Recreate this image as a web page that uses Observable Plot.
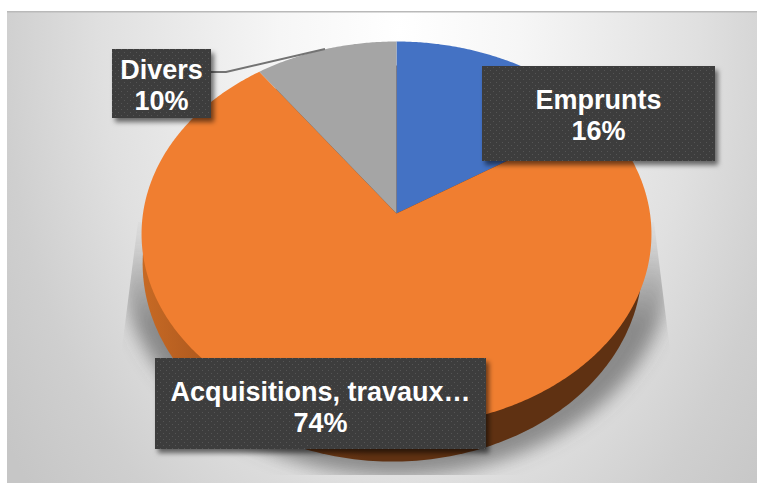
<!DOCTYPE html>
<html><head><meta charset="utf-8">
<script src="https://cdn.jsdelivr.net/npm/d3@7"></script>
<script src="https://cdn.jsdelivr.net/npm/@observablehq/plot@0.6"></script>
<style>html,body{margin:0;padding:0;background:#fff}svg{display:block}</style>
</head><body><div id="chart"></div>
<script>
const categories = ["Emprunts", "Acquisitions, travaux…", "Divers"];
const shares = [16, 74, 10];
const colors = ["#4472C4", "#F07E30", "#A5A5A5"];

const K = 0.1065; // perspective of the tilted disc
const total = d3.sum(shares);
const project = (deg, sx = 1, sy = 1) => {
  const t = deg * Math.PI / 180, u = Math.sin(t), v = Math.cos(t), w = 1 + K * v;
  return {x: sx * u / w, y: sy * v / w};
};
let acc = 0;
const slices = [];
categories.forEach((c, i) => {
  const a0 = acc / total * 360, a1 = (acc + shares[i]) / total * 360;
  acc += shares[i];
  slices.push({category: c, x: 0, y: 0});
  for (const a of [...d3.range(a0, a1, 0.5), a1]) slices.push({category: c, ...project(a)});
});
const rim = d3.range(0, 361, 1).map(a => project(a, 0.98, 1.0286));
const shadow = d3.range(0, 361, 1).map(a => project(a, 1.078, 1.12));

const svgNS = "http://www.w3.org/2000/svg";
const h = s => { const t = document.createElementNS(svgNS, "g"); t.innerHTML = s; return t; };

const background = () => h(`
  <defs>
    <radialGradient id="bg" gradientUnits="userSpaceOnUse" cx="0" cy="0" r="1" gradientTransform="translate(400 30) scale(480 720)">
      <stop offset="0" stop-color="#ffffff"/><stop offset="0.25" stop-color="#f6f6f6"/><stop offset="0.62" stop-color="#e0e0e0"/><stop offset="0.83" stop-color="#cfcfcf"/><stop offset="1" stop-color="#c6c6c6"/>
    </radialGradient>
    <linearGradient id="wall" gradientUnits="userSpaceOnUse" x1="141" x2="370" y1="0" y2="0">
      <stop offset="0" stop-color="#c96b25"/><stop offset="0.3" stop-color="#ae591e"/><stop offset="0.7" stop-color="#703a16"/><stop offset="1" stop-color="#5f3112"/>
    </linearGradient>
    <linearGradient id="shadowFill" gradientUnits="userSpaceOnUse" x1="0" x2="0" y1="190" y2="300">
      <stop offset="0" stop-color="#555" stop-opacity="0"/><stop offset="0.3" stop-color="#555" stop-opacity="0.12"/><stop offset="1" stop-color="#555" stop-opacity="0.62"/>
    </linearGradient>
    <pattern id="dots" patternUnits="userSpaceOnUse" width="6" height="6">
      <rect width="6" height="6" fill="#3e3e3e"/>
      <rect x="1" y="1" width="1" height="1" fill="#555"/><rect x="4" y="4" width="1" height="1" fill="#555"/>
    </pattern>
    <filter id="blur" x="-20%" y="-20%" width="140%" height="140%"><feGaussianBlur stdDeviation="9"/></filter>
    <filter id="boxShadow" x="-10%" y="-10%" width="125%" height="130%"><feDropShadow dx="3" dy="4" stdDeviation="2.5" flood-color="#000" flood-opacity="0.55"/></filter>
    <clipPath id="shadowClip"><path d="M138 222L654 222L670 350L690 475L100 475L123 340Z"/></clipPath>
  </defs>
  <rect x="7" y="11" width="750" height="472" fill="url(#bg)"/>
  <rect x="7" y="11" width="750" height="1.5" fill="#b9b9b9"/>`);

const boxes = [
  {x: 482, y: 66, w: 233, h: 95},
  {x: 155, y: 358, w: 331, h: 91},
  {x: 112, y: 49, w: 99, h: 69}
];
const labelBoxes = () => h(
  `<path d="M211 72H226L325 49" fill="none" stroke="#737373" stroke-width="2"/>` +
  boxes.map(b => `<rect x="${b.x}" y="${b.y}" width="${b.w}" height="${b.h}" fill="url(#dots)" filter="url(#boxShadow)"/>`).join(""));

const labelCentres = [{dx: 598, dy: 114}, {dx: 320, dy: 406}, {dx: 161, dy: 84}];
const labelMarks = categories.map((c, i) => Plot.text([`${c}\n${shares[i]}%`], {
  text: d => d, frameAnchor: "top-left", dx: labelCentres[i].dx, dy: labelCentres[i].dy,
  textAnchor: "middle", lineAnchor: "middle", lineHeight: 1.15,
  fill: "#fff", fontSize: 27, fontWeight: 700, fontFamily: "Liberation Sans"
}));

const plot = Plot.plot({
  width: 761, height: 495, margin: 0, axis: null,
  x: {domain: [-1, 1], range: [396 - 253.5, 396 + 253.5]},
  y: {domain: [-1, 1], range: [213 + 190.3, 213 - 190.3]},
  color: {domain: categories, range: colors},
  style: {background: "transparent"},
  marks: [
    background,
    Plot.line(shadow, {x: "x", y: "y", fill: "url(#shadowFill)", dy: 24, stroke: "none",
      render(i, s, v, d, c, n) { const g = n(i, s, v, d, c); const w = document.createElementNS(svgNS, "g"); w.setAttribute("clip-path", "url(#shadowClip)"); g.setAttribute("filter", "url(#blur)"); w.appendChild(g); return w; }}),
    Plot.line(rim, {x: "x", y: "y", fill: "url(#wall)", stroke: "none", dx: -4, dy: 29}),
    Plot.line(slices, {x: "x", y: "y", z: "category", fill: "category", stroke: "none"}),
    labelBoxes,
    ...labelMarks
  ]
});
document.getElementById("chart").append(plot);
</script></body></html>
